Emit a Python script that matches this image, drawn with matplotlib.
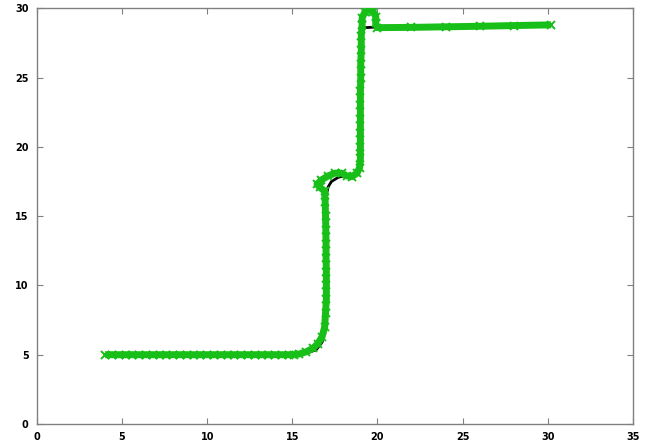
import matplotlib
matplotlib.use("Agg")
import matplotlib.pyplot as plt

# Reference path (black)
ref_x = [4.0, 15.0, 15.8, 16.4, 16.75, 16.95, 17.0, 17.0, 17.1, 17.3, 17.7, 18.2, 18.6, 18.9, 19.02, 19.02, 19.1, 19.3, 20.0, 25.0, 30.2]
ref_y = [5.0, 5.0, 5.1, 5.35, 5.9, 6.8, 8.0, 16.5, 17.1, 17.5, 17.8, 17.95, 18.0, 18.2, 18.8, 28.0, 28.4, 28.6, 28.65, 28.72, 28.8]

# Tracked path (green with x markers)
trk_x = [4.0, 4.4, 4.8, 5.2, 5.6, 6.0, 6.4, 6.8, 7.2, 7.6, 8.0, 8.4, 8.8, 9.2, 9.6, 10.0,
         10.4, 10.8, 11.2, 11.6, 12.0, 12.4, 12.8, 13.2, 13.6, 14.0, 14.4, 14.8, 15.1,
         15.4, 15.8, 16.2, 16.5, 16.75, 16.9, 16.95,
         17.0, 17.0, 17.0, 16.98, 16.98, 16.97, 16.95, 16.93, 16.9,
         16.6, 16.45, 16.7, 17.1, 17.5, 17.9, 18.2, 18.5, 18.8, 18.95,
         19.0, 19.0, 19.0, 19.0, 19.0, 19.0, 19.02, 19.02, 19.05, 19.05,
         19.1, 19.1, 19.25, 19.5, 19.75, 19.9, 19.9, 20.0,
         22.0, 24.0, 26.0, 28.0, 30.2]
trk_y = [5.0, 5.0, 5.0, 5.0, 5.0, 5.0, 5.0, 5.0, 5.0, 5.0, 5.0, 5.0, 5.0, 5.0, 5.0, 5.0,
         5.0, 5.0, 5.0, 5.0, 5.0, 5.0, 5.0, 5.0, 5.0, 5.0, 5.0, 5.0, 5.0,
         5.05, 5.2, 5.45, 5.8, 6.3, 7.0, 8.0,
         9.0, 10.0, 11.0, 12.0, 13.0, 14.0, 15.0, 16.0, 16.8,
         17.1, 17.3, 17.6, 17.9, 18.1, 18.1, 17.9, 17.85, 18.1, 18.5,
         19.2, 20.0, 21.0, 22.0, 23.0, 24.0, 25.0, 26.0, 27.0, 28.0,
         28.8, 29.3, 29.7, 29.9, 29.75, 29.4, 28.9, 28.6,
         28.62, 28.66, 28.7, 28.75, 28.8]

x_ticks = [0, 5, 10, 15, 20, 25, 30, 35]
y_ticks = [0, 5, 10, 15, 20, 25, 30]

fig = plt.figure(figsize=(6.49, 4.48), dpi=100)
ax = fig.add_axes([0.057, 0.0536, 0.918, 0.928])

ax.plot(ref_x, ref_y, color='black', lw=2, zorder=2)
ax.plot(trk_x, trk_y, color='#18bf18', lw=5, marker='x', ms=6, mew=1.4,
        mec='#18bf18', zorder=3, solid_capstyle='butt')

ax.set_xlim(0, 35)
ax.set_ylim(0, 30)
ax.set_xticks(x_ticks)
ax.set_yticks(y_ticks)
ax.tick_params(direction='in', length=4, width=0.8, color='#808080',
               top=True, right=True, labelsize=7, pad=6)
for lab in ax.get_xticklabels() + ax.get_yticklabels():
    lab.set_fontweight('bold')
for sp in ax.spines.values():
    sp.set_color('#808080')
    sp.set_linewidth(1)

fig.savefig('out.png', dpi=100)
